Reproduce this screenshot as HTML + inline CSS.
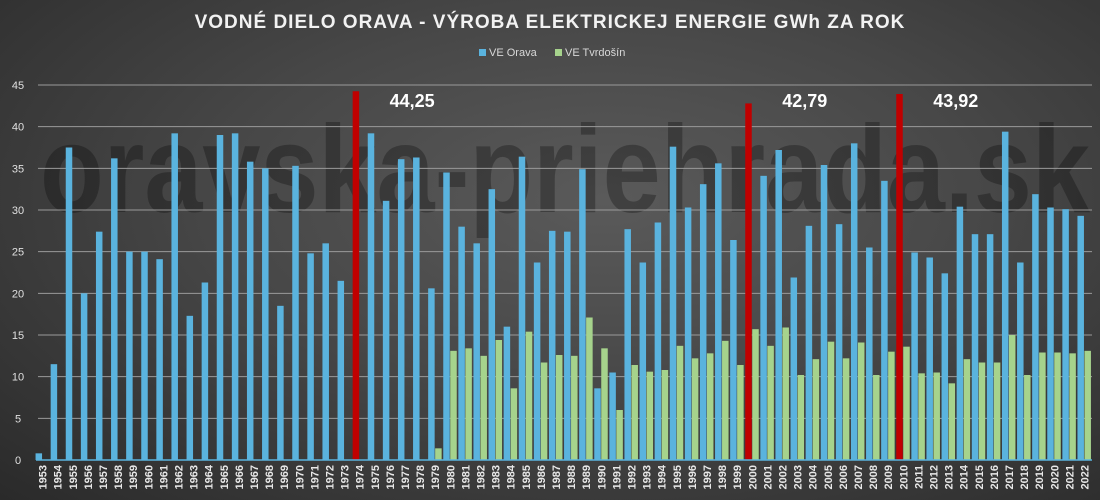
<!DOCTYPE html>
<html><head><meta charset="utf-8"><style>
html,body{margin:0;padding:0;}
body{width:1100px;height:500px;overflow:hidden;background:radial-gradient(ellipse at 55% 40%,#5a5a5a 0%,#474747 45%,#2a2a2a 100%);font-family:"Liberation Sans",sans-serif;}
svg{display:block}
</style></head><body>
<svg id="chart" width="1100" height="500" xmlns="http://www.w3.org/2000/svg">
<text x="565" y="212" text-anchor="middle" font-family="Liberation Sans, sans-serif" font-weight="bold" font-size="124" fill="rgba(0,0,0,0.28)" textLength="1050" lengthAdjust="spacingAndGlyphs">oravska-priehrada.sk</text>
<text x="550" y="28" text-anchor="middle" font-size="19" font-weight="bold" fill="#f2f2f2" letter-spacing="1">VODNÉ DIELO ORAVA - VÝROBA ELEKTRICKEJ ENERGIE GWh ZA ROK</text>
<g>
<rect x="479" y="49" width="7" height="7" fill="#5ab3de"/>
<text x="489" y="56" font-size="11" fill="#d8d8d8">VE Orava</text>
<rect x="555" y="49" width="7" height="7" fill="#a6d38c"/>
<text x="565" y="56" font-size="11" fill="#d8d8d8">VE Tvrdošín</text>
</g>
<g id="grid"></g><g id="bars"></g><g id="xlabels"></g>
</svg>
<script>
const years=[];for(let y=1953;y<=2022;y++)years.push(y);
const orava=[0.8,11.5,37.5,20,27.4,36.2,25,25,24.1,39.2,17.3,21.3,39,39.2,35.8,35,18.5,35.3,24.8,26,21.5,44.25,39.2,31.1,36.1,36.3,20.6,34.5,28,26,32.5,16,36.4,23.7,27.5,27.4,34.9,8.6,10.5,27.7,23.7,28.5,37.6,30.3,33.1,35.6,26.4,42.79,34.1,37.2,21.9,28.1,35.4,28.3,38,25.5,33.5,43.92,24.9,24.3,22.4,30.4,27.1,27.1,39.4,23.7,31.9,30.3,30.1,29.3];
const tvrdosin=[0,0,0,0,0,0,0,0,0,0,0,0,0,0,0,0,0,0,0,0,0,0,0,0,0,0,1.4,13.1,13.4,12.5,14.4,8.6,15.4,11.7,12.6,12.5,17.1,13.4,6,11.4,10.6,10.8,13.7,12.2,12.8,14.3,11.4,15.7,13.7,15.9,10.2,12.1,14.2,12.2,14.1,10.2,13,13.6,10.4,10.5,9.2,12.1,11.7,11.7,15,10.2,12.9,12.9,12.8,13.1];
const highlightYears=[1974,2000,2010];
const highlightLabels=["44,25","42,79","43,92"];
const yTicks=[0,5,10,15,20,25,30,35,40,45];
const NS="http://www.w3.org/2000/svg";
const X0=35,STEP=15.1,Y0=460,YMAX=45,PH=375;
const yS=v=>Y0-v/YMAX*PH;
const xC=i=>X0+(i+0.5)*STEP;
function mk(tag,attrs,parent){const e=document.createElementNS(NS,tag);for(const k in attrs)e.setAttribute(k,attrs[k]);parent.appendChild(e);return e;}
const grid=document.getElementById('grid'),bars=document.getElementById('bars'),xl=document.getElementById('xlabels');
yTicks.forEach(t=>{
 if(t>0){const l=mk('line',{x1:38,x2:1092,y1:yS(t),y2:yS(t),stroke:'#9a9a9a','stroke-width':1},grid);
 
 }
 const tx=mk('text',{x:18,y:yS(t)+4,'text-anchor':'middle','font-size':11,fill:'#e0e0e0'},grid);
 tx.textContent=t;
 
 
});
years.forEach((yr,i)=>{
 const c=xC(i);const hi=highlightYears.indexOf(yr);
 const v=orava[i];
 const b=mk('rect',{x:c-7,y:yS(v),width:6.5,height:Y0-yS(v),fill:hi>=0?'#c00000':'#5ab3de'},bars);
 
 
 const g=tvrdosin[i];
 if(g>0){const gb=mk('rect',{x:c,y:yS(g),width:6.5,height:Y0-yS(g),fill:'#a6d38c'},bars);
 
 }
 const t=mk('text',{transform:`translate(${c+4},${465}) rotate(-90)`,'text-anchor':'end','font-size':11,'font-weight':'bold',fill:'#e8e8e8'},xl);
 t.textContent=yr;
 
 
 if(hi>=0){const a=mk('text',{x:c+30,y:107,'font-size':18,'font-weight':'bold',fill:'#ffffff'},bars);
 a.textContent=highlightLabels[hi];
 
 }
});
const ax=mk('line',{x1:36,x2:1092,y1:Y0,y2:Y0,stroke:'#5ab3de','stroke-width':1.5},bars);


</script>
</body></html>
